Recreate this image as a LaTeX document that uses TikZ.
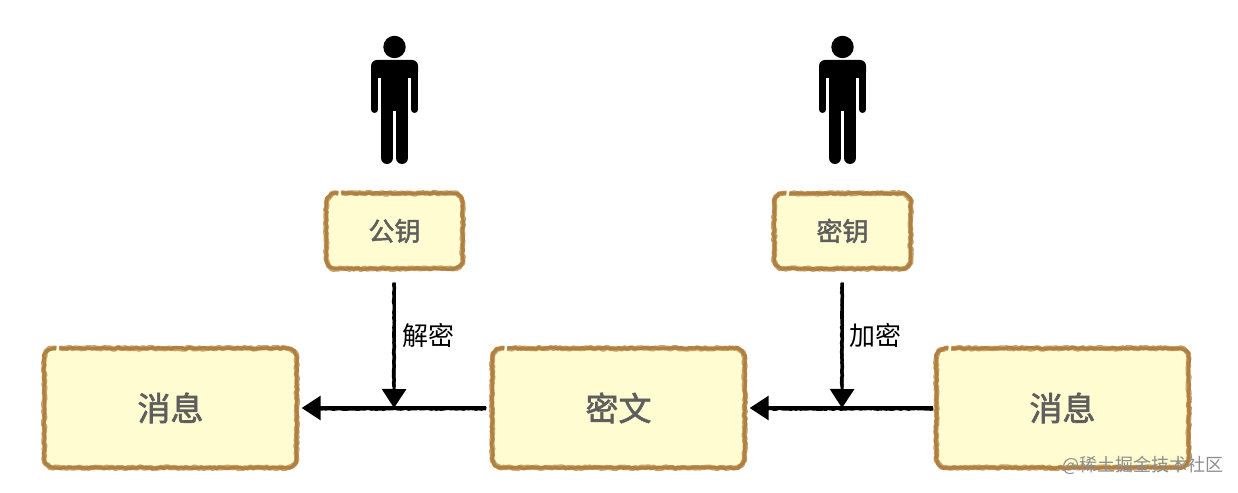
\documentclass[tikz,border=0pt]{standalone}
\usepackage{fontspec}
\newfontfamily\cjk{Noto Sans CJK SC}
\newfontfamily\cjkmed[FakeBold=1.8]{Noto Sans CJK SC}
\usetikzlibrary{arrows.meta,calc,decorations.pathmorphing}
\definecolor{boxfill}{HTML}{FEFCD0}
\definecolor{boxedge}{HTML}{B07F42}
\definecolor{boxedgeb}{HTML}{C9A26A}
\definecolor{boxtext}{HTML}{5E5E5E}
\definecolor{marktext}{HTML}{8E8E8E}
\newcommand{\framepath}[1]{%
  ($(#1.north west)+(15,0)$) -- ($(#1.north east)+(-10,0)$)
  arc[start angle=90,end angle=0,radius=10] -- ($(#1.south east)+(0,10)$)
  arc[start angle=0,end angle=-90,radius=10] -- ($(#1.south west)+(10,0)$)
  arc[start angle=270,end angle=180,radius=10] -- ($(#1.north west)+(0,-10)$)
  arc[start angle=180,end angle=90,radius=10] -- ($(#1.north west)+(12,0)$)}
\newcommand{\roughframe}[1]{%
  \draw[frameouter] \framepath{#1};
  \draw[frameinner] \framepath{#1};
}
\tikzset{
  frameouter/.style={boxedgeb,line width=5pt,line join=round,decorate,
    decoration={random steps,segment length=2.2pt,amplitude=0.9pt}},
  frameinner/.style={boxedge,line width=3.4pt,line join=round,decorate,
    decoration={random steps,segment length=2.6pt,amplitude=0.7pt}},
  sketchbox/.style={fill=boxfill,rounded corners=9pt,inner sep=0pt,text=boxtext},
  bigbox/.style={sketchbox,minimum width=252pt,minimum height=119pt,font=\cjkmed\fontsize{33}{36}\selectfont},
  smallbox/.style={sketchbox,minimum width=136pt,minimum height=75pt,font=\cjkmed\fontsize{26}{30}\selectfont},
  flow/.style={draw=black,line width=3pt,-{Triangle[width=24pt,length=19pt]}},
  roughline/.style={draw=black,line width=3.4pt,decorate,
    decoration={random steps,segment length=2.5pt,amplitude=0.45pt}},
  edgelabel/.style={font=\cjk\fontsize{26}{30}\selectfont,text=black,inner sep=0pt},
  watermark/.style={font=\cjk\fontsize{18}{22}\selectfont,text=marktext,inner sep=0pt},
  person/.pic={
    \fill (0,117) circle (11.2);
    \fill[rounded corners=6pt] (-23.5,86) rectangle (23.5,104);
    \fill (-13.5,50) rectangle (13.5,100);
    \draw[line width=7pt,line cap=round] (-20,95) -- (-20,54.5);
    \draw[line width=7pt,line cap=round] (20,95) -- (20,54.5);
    \draw[line width=12pt,line cap=round] (-7.5,55) -- (-7.5,6);
    \draw[line width=12pt,line cap=round] (7.5,55) -- (7.5,6);
    \fill[white] (-1.5,53) rectangle (1.5,0);
  },
}
\begin{document}
\begin{tikzpicture}[x=1pt,y=1pt]
\pgfmathsetseed{7}
\useasboundingbox (0,0) rectangle (1238,492);
\fill[white] (0,0) rectangle (1238,492);
\pic at (394.5,328) {person};
\pic at (842.5,328) {person};
\node[bigbox] (msgL) at (170.5,84) {消息};
\node[bigbox] (cipher) at (618.5,84) {密文};
\node[bigbox] (msgR) at (1062.5,84) {消息};
\node[smallbox] (pub) at (394.5,261) {\raisebox{-1pt}{公钥}};
\node[smallbox] (priv) at (842.5,261) {\raisebox{-1pt}{密钥}};
\roughframe{msgL}
\roughframe{cipher}
\roughframe{msgR}
\roughframe{pub}
\roughframe{priv}
\coordinate (joinL) at (394,84);
\coordinate (joinR) at (842,84);
\draw[flow,shorten <=6pt,shorten >=5pt,yshift=-0.8pt] (cipher.west) -- (msgL.east);
\draw[flow,shorten <=3pt,shorten >=5pt,yshift=-0.8pt] (msgR.west) -- (cipher.east);
\draw[flow,shorten <=14pt] (pub.south) -- (joinL);
\draw[flow,shorten <=14pt] (priv.south) -- (joinR);
\draw[roughline] ($(cipher.west)+(-6,-0.8)$) -- ($(msgL.east)+(22,-0.8)$);
\draw[roughline] ($(msgR.west)+(-3,-0.8)$) -- ($(cipher.east)+(22,-0.8)$);
\draw[roughline] ($(pub.south)+(-0.5,-14)$) -- ($(joinL)+(0,21)$);
\draw[roughline] ($(priv.south)+(-0.5,-14)$) -- ($(joinR)+(0,21)$);
\node[edgelabel] (decrypt) at (428,156) {解密};
\node[edgelabel] (encrypt) at (875,156) {加密};
\node[watermark] (mark) at (1143,27) {@稀土掘金技术社区};
\end{tikzpicture}
\end{document}
